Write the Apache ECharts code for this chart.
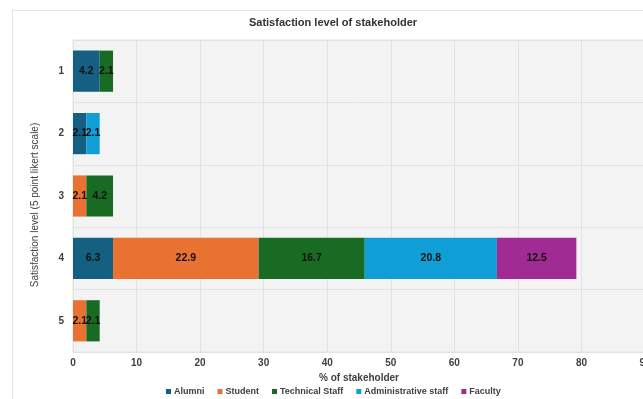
<!DOCTYPE html>
<html>
<head>
<meta charset="utf-8">
<script src="https://cdn.jsdelivr.net/npm/echarts@6/dist/echarts.min.js"></script>
<style>
  html, body { margin: 0; padding: 0; background: #ffffff; }
  #chart { position: absolute; left: 0; top: 0; width: 643px; height: 399px; }
  #frame { position: absolute; left: 12px; top: 10px; width: 700px; height: 420px; border: 1px solid #e4e4e4; box-sizing: border-box; pointer-events: none; }
</style>
</head>
<body>
<div id="frame"></div>
<div id="chart"></div>
<script>
// Likert levels (1 = top row)
const levels = ['1', '2', '3', '4', '5'];

// Share of each stakeholder group per level (%); null = no response
const alumni         = [4.2, 2.1, null, 6.3, null];
const student        = [null, null, 2.1, 22.9, 2.1];
const technicalStaff = [2.1, null, 4.2, 16.7, 2.1];
const adminStaff     = [null, 2.1, null, 20.8, null];
const faculty        = [null, null, null, 12.5, null];

const seriesNames = ['Alumni', 'Student', 'Technical Staff', 'Administrative staff', 'Faculty'];
const seriesData = [alumni, student, technicalStaff, adminStaff, faculty];
const colors = ['#156082', '#E97132', '#196B24', '#0F9ED5', '#A02B93'];

const font = '"Liberation Sans", Arial, sans-serif';

const chart = echarts.init(document.getElementById('chart'), null, { renderer: 'canvas' });

chart.setOption({
  animation: false,
  color: colors,
  title: {
    text: 'Satisfaction level of stakeholder',
    left: 333,
    textAlign: 'center',
    top: 17,
    padding: 0,
    textStyle: { fontFamily: font, fontSize: 11, fontWeight: 'bold', color: '#333333' }
  },
  legend: {
    data: seriesNames,
    top: 387,
    left: 166,
    padding: 0,
    itemWidth: 5,
    itemHeight: 5,
    itemGap: 13,
    icon: 'rect',
    textStyle: { fontFamily: font, fontSize: 9, fontWeight: 'bold', color: '#404040', padding: [0, 0, 0, -2] }
  },
  grid: {
    show: true,
    left: 73,
    top: 40,
    width: 572,
    height: 312,
    outerBoundsMode: 'none',
    containLabel: false,
    backgroundColor: '#f3f3f3',
    borderColor: '#e2e2e2',
    borderWidth: 1
  },
  xAxis: {
    type: 'value',
    min: 0,
    max: 90,
    interval: 10,
    name: '% of stakeholder',
    nameLocation: 'middle',
    nameGap: 16,
    nameTextStyle: { fontFamily: font, fontSize: 10, fontWeight: 'bold', color: '#404040' },
    axisLine: { show: false },
    axisTick: { show: false },
    axisLabel: { margin: 6, fontFamily: font, fontSize: 10, fontWeight: 'bold', color: '#404040' },
    splitLine: { show: true, lineStyle: { color: '#e2e2e2', width: 1 } }
  },
  yAxis: {
    type: 'category',
    data: levels,
    inverse: true,
    name: 'Satisfaction level (5 point likert scale)',
    nameLocation: 'middle',
    nameGap: 33,
    nameTextStyle: { fontFamily: font, fontSize: 10, color: '#404040', padding: [0, 18, 0, 0] },
    axisLine: { show: false },
    axisTick: { show: false },
    axisLabel: { margin: 9, fontFamily: font, fontSize: 10, fontWeight: 'bold', color: '#404040' },
    splitLine: { show: true, lineStyle: { color: '#e2e2e2', width: 1 } }
  },
  series: seriesNames.map((name, i) => ({
    name: name,
    type: 'bar',
    stack: 'total',
    barCategoryGap: '34%',
    data: seriesData[i],
    label: {
      show: true,
      position: 'inside',
      fontFamily: font,
      fontSize: 10.5,
      fontWeight: 'bold',
      color: '#111111',
      formatter: p => p.value.toFixed(1)
    }
  }))
});
</script>
</body>
</html>
